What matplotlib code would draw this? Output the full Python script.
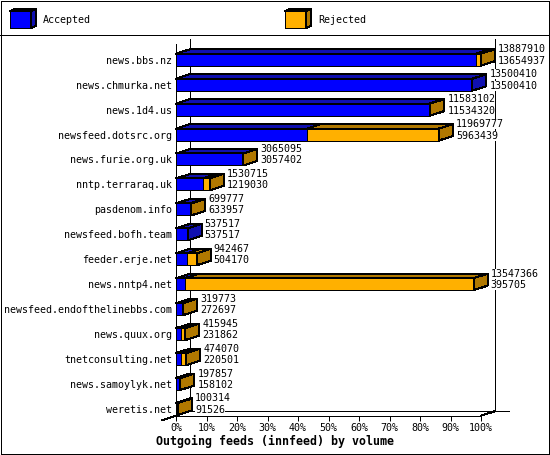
import matplotlib
matplotlib.use("Agg")
import matplotlib.pyplot as plt
from matplotlib.patches import Polygon, Rectangle

# innfeed outgoing volume per peer (top value = offered, bottom value = accepted)
hosts = ['news.bbs.nz', 'news.chmurka.net', 'news.1d4.us', 'newsfeed.dotsrc.org',
         'news.furie.org.uk', 'nntp.terraraq.uk', 'pasdenom.info', 'newsfeed.bofh.team',
         'feeder.erje.net', 'news.nntp4.net', 'newsfeed.endofthelinebbs.com',
         'news.quux.org', 'tnetconsulting.net', 'news.samoylyk.net', 'weretis.net']
offered = [13887910, 13500410, 11583102, 11969777, 3065095, 1530715, 699777, 537517,
           942467, 13547366, 319773, 415945, 474070, 197857, 100314]
accepted = [13654937, 13500410, 11534320, 5963439, 3057402, 1219030, 633957, 537517,
            504170, 395705, 272697, 231862, 220501, 158102, 91526]
pct_ticks = list(range(0, 101, 10))
legend_labels = ['Accepted', 'Rejected']
xlabel = 'Outgoing feeds (innfeed) by volume'

blue = '#0000ff'
blue_dark = '#1010b0'
orange = '#ffb000'
orange_dark = '#b07800'

W, H = 550, 455
FS = 7.2
LW = 0.72  # one pixel at 100 dpi
plt.rcParams['font.family'] = ['DejaVu Sans Mono']
plt.rcParams['patch.antialiased'] = False
plt.rcParams['lines.antialiased'] = False

fig = plt.figure(figsize=(W / 100, H / 100), dpi=100)

# legend / frame layer in pixel units
lax = fig.add_axes([0, 0, 1, 1])
lax.set_xlim(0, W)
lax.set_ylim(H, 0)
lax.axis('off')
lax.plot([1, W - 1, W - 1, 1, 1], [1, 1, H - 1, H - 1, 1], color='black', lw=LW, clip_on=False)
lax.plot([0, W], [35, 35], color='black', lw=LW)


def cube(a, x, y, w, h, d, e, front, dark):
    a.add_patch(Rectangle((x, y), w, h, fc=front, ec='black', lw=LW))
    a.add_patch(Polygon([(x, y), (x + w, y), (x + w + d, y - e), (x + d, y - e)],
                        fc=dark, ec='black', lw=LW))
    a.add_patch(Polygon([(x + w, y), (x + w + d, y - e), (x + w + d, y + h - e), (x + w, y + h)],
                        fc=dark, ec='black', lw=LW))


for lx, lab, fc, dc in [(10, legend_labels[0], blue, blue_dark),
                        (285, legend_labels[1], orange, orange_dark)]:
    cube(lax, lx, 11, 21, 17, 5, 2, fc, dc)
    lax.text(lx + 33, 20, lab, fontsize=FS, va='center', ha='left')

# main chart
left, right, top, bottom = 176, 481, 44, 415.7
ax = fig.add_axes([left / W, 1 - bottom / H, (right - left) / W, (bottom - top) / H])
n = len(hosts)
y_top, y_bot = -0.629, n - 0.73
ax.set_xlim(0, 100)
ax.set_ylim(y_bot, y_top)
ax.set_facecolor('none')

dx = 14 * 100 / (right - left)
dy = 4.5 * (y_bot - y_top) / (bottom - top)
gap = 3 * 100 / (right - left)
h = 0.48
maxv = max(offered)

# back walls / floor
kw = dict(color='black', lw=LW, clip_on=False, zorder=1)
ax.plot([dx, dx], [y_top - dy, y_bot - dy], **kw)
ax.plot([100 + dx, 100 + dx], [y_top - dy, y_bot - dy], **kw)
ax.plot([dx, 100 + 2 * dx], [y_bot - dy, y_bot - dy], **kw)
ax.plot([0, -dx], [y_bot, y_bot + dy], **kw)
ax.plot([100, 100 + dx], [y_bot, y_bot - dy], **kw)

for i, (tot, acc) in enumerate(zip(offered, accepted)):
    a = acc / maxv * 100
    t = tot / maxv * 100
    yt = i - h / 2
    yb = i + h / 2
    ax.barh(i, a, height=h, color=blue, edgecolor='black', lw=LW, zorder=3)
    ax.add_patch(Polygon([(0, yt), (a, yt), (a + dx, yt - dy), (dx, yt - dy)],
                         fc=blue_dark, ec='black', lw=LW, zorder=3, clip_on=False))
    side = blue_dark
    if t > a:
        ax.barh(i, t - a, left=a, height=h, color=orange, edgecolor='black', lw=LW, zorder=3)
        ax.add_patch(Polygon([(a, yt), (t, yt), (t + dx, yt - dy), (a + dx, yt - dy)],
                             fc=orange_dark, ec='black', lw=LW, zorder=3, clip_on=False))
        side = orange_dark
    ax.add_patch(Polygon([(t, yt), (t + dx, yt - dy), (t + dx, yb - dy), (t, yb)],
                         fc=side, ec='black', lw=LW, zorder=3, clip_on=False))
    bb = dict(facecolor='white', edgecolor='none', pad=0)
    ax.text(t + dx + gap, i - 0.42, str(tot), fontsize=FS, va='center', ha='left',
            bbox=bb, zorder=4, clip_on=False)
    ax.text(t + dx + gap, i + 0.04, str(acc), fontsize=FS, va='center', ha='left',
            bbox=bb, zorder=4, clip_on=False)

ax.set_yticks(range(n))
ax.set_yticklabels(hosts, fontsize=FS)
ax.tick_params(axis='y', length=0, pad=2.9)
ax.set_xticks(pct_ticks)
ax.set_xticklabels([f'{v}%' for v in pct_ticks], fontsize=FS)
ax.tick_params(axis='x', length=3.6, width=LW, direction='out', pad=1.5)
for s in ['top', 'right']:
    ax.spines[s].set_visible(False)
for s in ['left', 'bottom']:
    ax.spines[s].set_linewidth(LW)
    ax.spines[s].set_zorder(5)

fig.text(0.5, 1 - 441.7 / H, xlabel, fontsize=8.4, weight='bold', ha='center', va='center')

fig.savefig('out.png', dpi=100)
